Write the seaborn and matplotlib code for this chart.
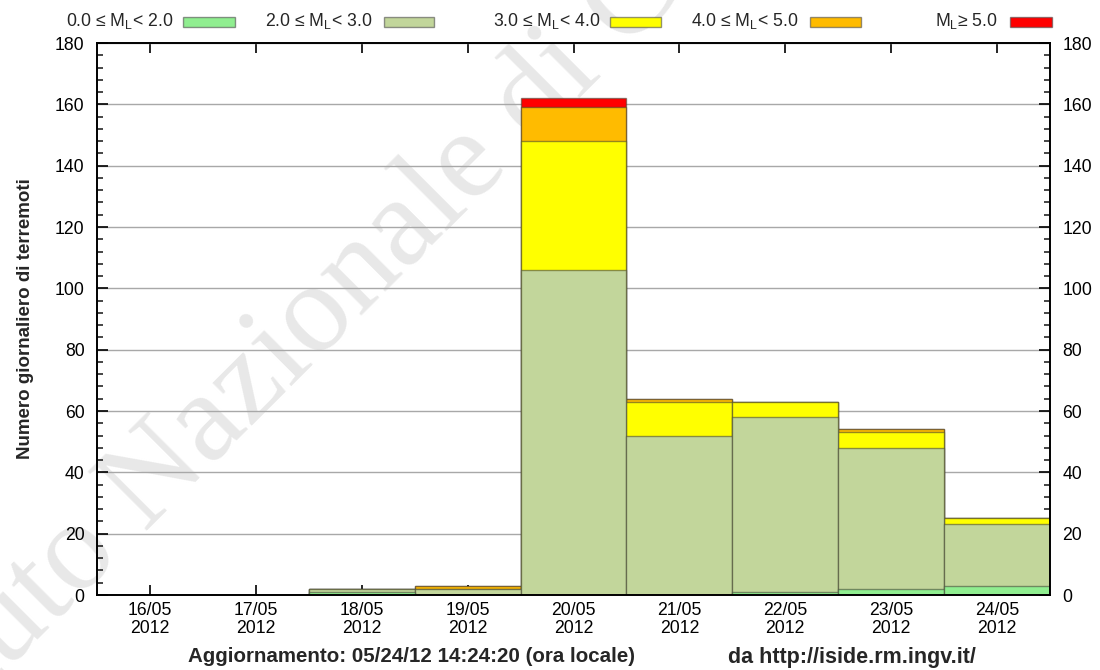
import matplotlib
matplotlib.use("Agg")
import matplotlib.pyplot as plt
from matplotlib.ticker import MultipleLocator
from matplotlib.patches import Rectangle
import numpy as np
import seaborn as sns

# ---- data ----
dates = ["16/05\n2012", "17/05\n2012", "18/05\n2012", "19/05\n2012", "20/05\n2012",
         "21/05\n2012", "22/05\n2012", "23/05\n2012", "24/05\n2012"]
m_0_2 = [0, 0, 1, 0, 0, 0, 1, 2, 3]
m_2_3 = [0, 0, 1, 2, 106, 52, 57, 46, 20]
m_3_4 = [0, 0, 0, 0, 42, 11, 5, 5, 2]
m_4_5 = [0, 0, 0, 1, 11, 1, 0, 1, 0]
m_5 = [0, 0, 0, 0, 3, 0, 0, 0, 0]
class_labels = ["0.0 \u2264 M$_\\mathregular{L}$< 2.0", "2.0 \u2264 M$_\\mathregular{L}$< 3.0",
                "3.0 \u2264 M$_\\mathregular{L}$< 4.0", "4.0 \u2264 M$_\\mathregular{L}$< 5.0",
                "M$_\\mathregular{L}$\u2265 5.0"]
colors = ["#90ee90", "#c2d69b", "#ffff00", "#ffbb00", "#ff0000"]

sns.set_style("white")
plt.rcParams["font.family"] = ["Liberation Sans", "DejaVu Sans"]
plt.rcParams["mathtext.fontset"] = "custom"
plt.rcParams["mathtext.rm"] = "Liberation Sans"

fig = plt.figure(figsize=(11, 6.7), dpi=100)
ax = fig.add_axes([97 / 1100, 1 - 595 / 670, (1050 - 97) / 1100, (595 - 43) / 670])
ax.set_facecolor("none")

# watermark (anchored at the "N" of Nazionale)
wm_x, wm_y, wm_rot, wm_size = 0.132, 0.205, 45, 92
fig.text(wm_x, wm_y, "Nazionale di Geofisica e Vulcanologia",
         family=["Liberation Serif"], fontsize=wm_size, color="#e8e8e8",
         rotation=wm_rot, rotation_mode="anchor", ha="left", va="baseline", zorder=-1)
fig.text(wm_x, wm_y, "Istituto ",
         family=["Liberation Serif"], fontsize=wm_size, color="#e8e8e8",
         rotation=wm_rot, rotation_mode="anchor", ha="right", va="baseline", zorder=-1)

# stacked bars drawn as cumulative overlays (top class first)
layers = [m_0_2, m_2_3, m_3_4, m_4_5, m_5]
cum = np.cumsum(np.array(layers), axis=0)
for i in range(len(layers) - 1, -1, -1):
    sns.barplot(x=dates, y=cum[i], color=colors[i], saturation=1, width=1.0,
                edgecolor=(0.25, 0.25, 0.2, 0.55), linewidth=1.0, errorbar=None,
                ax=ax, zorder=2)

ax.set_xlim(-0.5, 8.5)
ax.set_ylim(0, 180)
ax.yaxis.set_major_locator(MultipleLocator(20))
ax.yaxis.set_minor_locator(MultipleLocator(4))
ax.yaxis.grid(True, color="#a8a8a8", linewidth=1.0, zorder=1)
ax.xaxis.grid(False)
ax.set_axisbelow(True)
for s in ax.spines.values():
    s.set_visible(True)
    s.set_color("black")
    s.set_linewidth(1.4)
    s.set_zorder(5)
ax.tick_params(axis="y", which="major", direction="in", length=8, width=1.2,
               left=True, right=True, labelleft=True, labelright=True,
               labelsize=12.7, pad=9, colors="black")
ax.tick_params(axis="y", which="minor", direction="in", length=4, width=1.2,
               left=True, right=True)
ax.tick_params(axis="x", which="major", direction="in", length=7, width=1.2,
               bottom=True, top=True, labelsize=12.7, pad=5, colors="black")
for t in ax.get_xticklabels():
    t.set_linespacing(1.05)
ax.set_xlabel("")
ax.set_ylabel("Numero giornaliero di terremoti", fontsize=13.5, fontweight="bold",
              labelpad=15)

# legend row (gnuplot style: text then sample)
text_right = [173, 372, 600, 798, 998]
box_x = [(183, 235), (384, 434), (610, 661), (810, 861), (1010, 1052)]
for lab, c, tr, (b0, b1) in zip(class_labels, colors, text_right, box_x):
    fig.text(tr / 1100, 1 - 21 / 670, lab, ha="right", va="center", fontsize=12.7)
    fig.patches.append(Rectangle((b0 / 1100, 1 - 27 / 670), (b1 - b0) / 1100, 10 / 670,
                                 transform=fig.transFigure, facecolor=c,
                                 edgecolor=(0.3, 0.3, 0.3, 0.6), linewidth=1))

fig.text(412 / 1100, 1 - 657 / 670, "Aggiornamento: 05/24/12 14:24:20 (ora locale)",
         ha="center", va="center", fontsize=14.8, fontweight="bold")
fig.text(852 / 1100, 1 - 657 / 670, "da http://iside.rm.ingv.it/",
         ha="center", va="center", fontsize=15.5, fontweight="bold")

fig.savefig("out.png", dpi=100)
